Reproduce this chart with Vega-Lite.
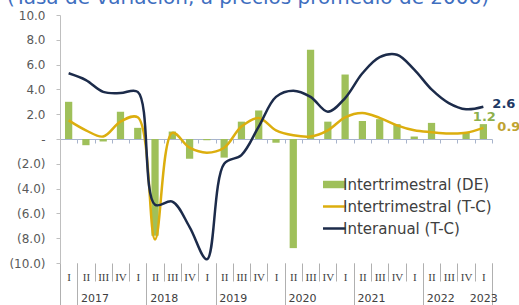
{
  "$schema": "https://vega.github.io/schema/vega-lite/v6.json",
  "width": 432,
  "height": 248,
  "autosize": {"type": "none"},
  "padding": {"left": 60, "top": 15, "right": 27, "bottom": 42},
  "background": "white",
  "config": {"view": {"stroke": null}},
  "title": {
    "text": "(Tasa de variación, a precios promedio de 2006)",
    "font": "DejaVu Sans",
    "fontSize": 20,
    "fontWeight": "normal",
    "color": "#3f6fbf",
    "anchor": "middle",
    "baseline": "alphabetic",
    "dx": -28,
    "dy": 17,
    "offset": 2
  },
  "data": {
    "values": [
      {"q": "2017-I", "de": 3.0, "tc": 1.5, "ia": 5.3},
      {"q": "2017-II", "de": -0.5, "tc": 0.7, "ia": 4.75},
      {"q": "2017-III", "de": -0.2, "tc": 0.2, "ia": 3.8},
      {"q": "2017-IV", "de": 2.2, "tc": 1.4, "ia": 3.7},
      {"q": "2018-I", "de": 0.9, "tc": 1.75, "ia": 3.8},
      {"q": "2018-II", "de": -7.8, "tc": -8.1, "ia": -5.3},
      {"q": "2018-III", "de": 0.6, "tc": 0.5, "ia": -5.05},
      {"q": "2018-IV", "de": -1.6, "tc": -0.7, "ia": -7.1},
      {"q": "2019-I", "de": -0.1, "tc": -1.1, "ia": -9.7},
      {"q": "2019-II", "de": -1.5, "tc": -0.7, "ia": -2.0},
      {"q": "2019-III", "de": 1.4, "tc": 1.0, "ia": -1.3},
      {"q": "2019-IV", "de": 2.3, "tc": 1.7, "ia": 1.0},
      {"q": "2020-I", "de": -0.3, "tc": 0.7, "ia": 3.4},
      {"q": "2020-II", "de": -8.8, "tc": 0.3, "ia": 3.9},
      {"q": "2020-III", "de": 7.2, "tc": 0.2, "ia": 3.4},
      {"q": "2020-IV", "de": 1.4, "tc": 0.7, "ia": 2.2},
      {"q": "2021-I", "de": 5.2, "tc": 1.75, "ia": 3.3},
      {"q": "2021-II", "de": 1.45, "tc": 2.1, "ia": 5.3},
      {"q": "2021-III", "de": 1.6, "tc": 1.7, "ia": 6.6},
      {"q": "2021-IV", "de": 1.2, "tc": 1.1, "ia": 6.8},
      {"q": "2022-I", "de": 0.2, "tc": 0.7, "ia": 5.6},
      {"q": "2022-II", "de": 1.3, "tc": 0.55, "ia": 4.0},
      {"q": "2022-III", "de": 0.0, "tc": 0.45, "ia": 2.9},
      {"q": "2022-IV", "de": 0.5, "tc": 0.5, "ia": 2.4},
      {"q": "2023-I", "de": 1.2, "tc": 0.9, "ia": 2.6}
    ]
  },
  "layer": [
    {
      "mark": {"type": "bar", "width": {"band": 0.42}},
      "encoding": {
        "x": {
          "field": "q", "type": "ordinal", "sort": null,
          "scale": {"paddingInner": 0, "paddingOuter": 0},
          "axis": {
            "orient": "bottom",
            "title": null,
            "domain": false,
            "tickBand": "extent",
            "tickSize": 18,
            "tickColor": "#b0b0b0",
            "labelExpr": "isValid(datum.value) ? split(datum.value, '-')[1] : ''",
            "labelAngle": 0,
            "labelFont": "Liberation Serif",
            "labelFontSize": 11,
            "labelColor": "#404040",
            "labelPadding": -10
          }
        },
        "y": {
          "field": "de", "type": "quantitative",
          "scale": {"domain": [-10, 10], "nice": false},
          "axis": {
            "title": null,
            "grid": false,
            "values": [-10, -8, -6, -4, -2, 0, 2, 4, 6, 8, 10],
            "labelExpr": "datum.value == 0 ? '-' : (datum.value < 0 ? '(' + format(-datum.value, '.1f') + ')' : format(datum.value, '.1f'))",
            "labelFont": "DejaVu Sans",
            "labelFontSize": 12,
            "labelColor": "#595959",
            "domainColor": "#bfbfbf",
            "tickColor": "#bfbfbf",
            "tickSize": 4,
            "labelPadding": 11
          }
        },
        "color": {
          "datum": "Intertrimestral (DE)",
          "scale": {
            "domain": ["Intertrimestral (DE)", "Intertrimestral (T-C)", "Interanual (T-C)"],
            "range": ["#9fc05a", "#dcae0e", "#1c2b4a"]
          },
          "legend": {
            "title": null,
            "orient": "none",
            "legendX": 267,
            "legendY": 162,
            "padding": 0,
            "rowPadding": 6,
            "labelFont": "DejaVu Sans",
            "labelFontSize": 15,
            "labelColor": "#404040",
            "labelOffset": 1,
            "symbolSize": 132,
            "encode": {
              "symbols": {
                "update": {
                  "shape": {"signal": "datum.value == 'Intertrimestral (DE)' ? 'M-2,-0.65H2V0.65H-2Z' : 'M-2,0H2'"},
                  "fill": {"signal": "datum.value == 'Intertrimestral (DE)' ? scale('color', datum.value) : 'transparent'"},
                  "stroke": {"signal": "scale('color', datum.value)"},
                  "strokeWidth": {"signal": "datum.value == 'Intertrimestral (DE)' ? 0 : 2.5"},
                  "opacity": {"value": 1}
                }
              }
            }
          }
        }
      }
    },
    {
      "mark": {"type": "line", "interpolate": "catmull-rom", "strokeWidth": 2.5},
      "encoding": {
        "x": {
          "field": "q", "type": "ordinal", "sort": null,
          "axis": {
            "orient": "bottom",
            "title": null,
            "domain": false,
            "tickBand": "extent",
            "values": ["2017-I", "2018-I", "2019-I", "2020-I", "2021-I", "2022-I", "2023-I"],
            "tickSize": 42,
            "tickColor": "#b0b0b0",
            "labelExpr": "isValid(datum.value) ? split(datum.value, '-')[0] : ''",
            "labelOffset": {"condition": {"test": "datum.value == '2023-I'", "value": 0}, "value": 25.92},
            "labelAngle": 0,
            "labelFont": "DejaVu Sans",
            "labelFontSize": 11,
            "labelColor": "#404040",
            "labelPadding": -13
          }
        },
        "y": {"field": "tc", "type": "quantitative", "axis": null},
        "color": {"datum": "Intertrimestral (T-C)"}
      }
    },
    {
      "mark": {"type": "line", "interpolate": "catmull-rom", "strokeWidth": 2.5},
      "encoding": {
        "x": {
          "field": "q", "type": "ordinal", "sort": null,
          "axis": {
            "orient": "bottom",
            "title": null,
            "offset": -124,
            "tickBand": "extent",
            "labels": false,
            "tickSize": 4,
            "domainColor": "#a8b4cc",
            "tickColor": "#a8b4cc"
          }
        },
        "y": {"field": "ia", "type": "quantitative", "axis": null},
        "color": {"datum": "Interanual (T-C)"}
      }
    },
    {
      "transform": [{"filter": "datum.q == '2023-I'"}],
      "mark": {"type": "text", "align": "left", "baseline": "middle", "dx": 9, "dy": -3, "font": "DejaVu Sans", "fontWeight": "bold", "fontSize": 13, "color": "#203864"},
      "encoding": {
        "x": {"field": "q", "type": "ordinal", "sort": null, "axis": null},
        "y": {"field": "ia", "type": "quantitative", "axis": null},
        "text": {"field": "ia", "type": "quantitative", "format": ".1f"}
      }
    },
    {
      "transform": [{"filter": "datum.q == '2023-I'"}],
      "mark": {"type": "text", "align": "center", "baseline": "middle", "dx": 1, "dy": -7, "font": "DejaVu Sans", "fontWeight": "bold", "fontSize": 13, "color": "#8db04c"},
      "encoding": {
        "x": {"field": "q", "type": "ordinal", "sort": null, "axis": null},
        "y": {"field": "de", "type": "quantitative", "axis": null},
        "text": {"field": "de", "type": "quantitative", "format": ".1f"}
      }
    },
    {
      "transform": [{"filter": "datum.q == '2023-I'"}],
      "mark": {"type": "text", "align": "left", "baseline": "middle", "dx": 14, "dy": -1, "font": "DejaVu Sans", "fontWeight": "bold", "fontSize": 13, "color": "#bfa332"},
      "encoding": {
        "x": {"field": "q", "type": "ordinal", "sort": null, "axis": null},
        "y": {"field": "tc", "type": "quantitative", "axis": null},
        "text": {"field": "tc", "type": "quantitative", "format": ".1f"}
      }
    }
  ],
  "resolve": {"axis": {"x": "independent", "y": "independent"}}
}
